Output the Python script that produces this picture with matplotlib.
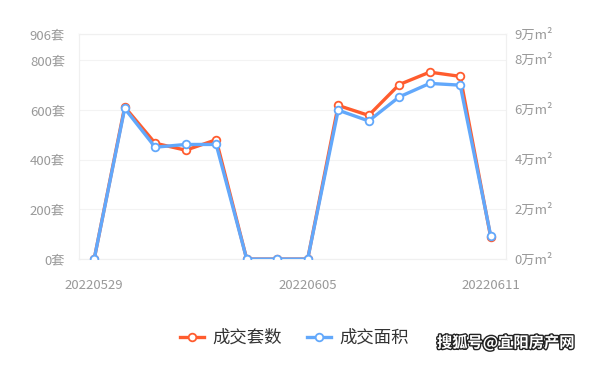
import matplotlib.pyplot as plt
import matplotlib.patheffects as pe

plt.rcParams['font.family'] = ['Noto Sans CJK SC', 'DejaVu Sans']

dates = ["20220529", "20220530", "20220531", "20220601", "20220602", "20220603", "20220604",
         "20220605", "20220606", "20220607", "20220608", "20220609", "20220610", "20220611"]
sets = [0, 612, 466, 438, 480, 0, 0, 0, 618, 578, 702, 752, 735, 88]       # 成交套数
area = [0, 6.02, 4.47, 4.58, 4.58, 0, 0, 0, 5.95, 5.52, 6.48, 7.02, 6.95, 0.93]  # 成交面积 (万m²)
left_ticks = [0, 200, 400, 600, 800, 906]
right_ticks = [0, 2, 4, 6, 8, 9]
shown = ["20220529", "20220605", "20220611"]

orange = '#ff5c2e'
blue = '#62a8fb'
gray = '#999999'

fig = plt.figure(figsize=(5.89, 3.68), dpi=100)
ax = fig.add_axes([0.134, 0.296, 0.725, 0.612])
ax2 = ax.twinx()

x = list(range(len(dates)))
l1, = ax.plot(x, sets, color=orange, lw=2.4, marker='o', ms=5.5, mfc='white', mec=orange, mew=1.3,
              label='成交套数', zorder=3)
l2, = ax2.plot(x, area, color=blue, lw=2.4, marker='o', ms=5.5, mfc='white', mec=blue, mew=1.3,
               label='成交面积', zorder=3)

ax.set_xlim(-0.5, len(dates) - 0.5)
ax.set_ylim(0, 906)
ax2.set_ylim(0, 9)
ax.set_yticks(left_ticks)
ax.set_yticklabels([f"{v}套" for v in left_ticks])
ax2.set_yticks(right_ticks)
ax2.set_yticklabels([f"{v}万m²" for v in right_ticks])
ax.set_xticks([dates.index(d) for d in shown])
ax.set_xticklabels(shown)

for a in (ax, ax2):
    for s in a.spines.values():
        s.set_color('#f0f0f0')
        s.set_linewidth(0.8)
    a.tick_params(length=0, colors=gray, labelsize=9.5)
ax.tick_params(axis='x', pad=14)
ax.tick_params(axis='y', pad=10)
ax2.tick_params(axis='y', pad=6)
ax.grid(axis='y', color='#f3f3f3', lw=0.8)
ax.set_axisbelow(True)

fig.legend(handles=[l1, l2], loc='center', bbox_to_anchor=(0.5, 0.082), ncol=2, frameon=False,
           fontsize=12.5, handlelength=1.4, columnspacing=1.4, handletextpad=0.5,
           labelcolor='#333333')

fig.text(0.975, 0.045, '搜狐号@宜阳房产网', ha='right', va='bottom', fontsize=11, color='white',
         fontweight='bold', path_effects=[pe.withStroke(linewidth=2, foreground='#222222')])

fig.savefig('out.png', dpi=100)
